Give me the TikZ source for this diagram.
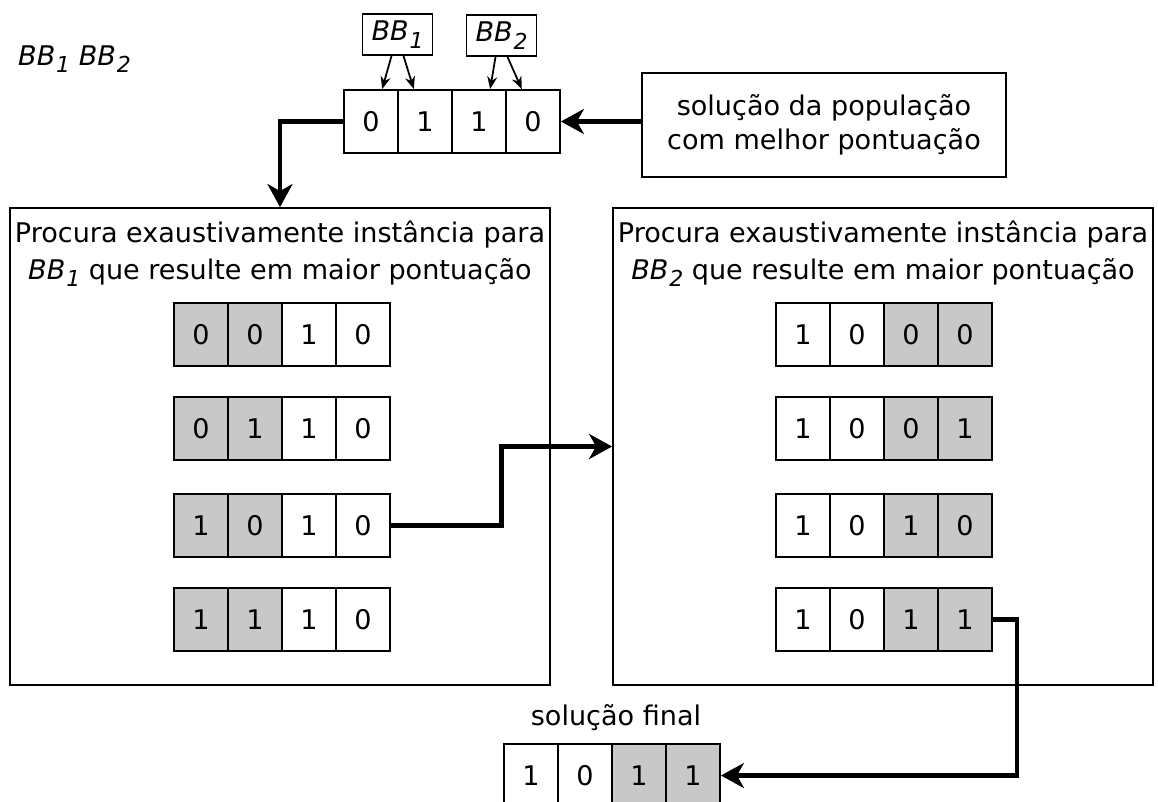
\documentclass[tikz,border=0pt]{standalone}
\usepackage{fontspec}
\setmainfont{DejaVu Sans}
\usetikzlibrary{calc,arrows.meta}
\definecolor{cellgray}{RGB}{200,200,200}
\newcommand{\bb}[1]{\textit{BB\kern0.5pt\raisebox{-0.5ex}{\fontsize{12.5}{12.5}\selectfont #1}}}

\begin{document}
\begin{tikzpicture}[x=0.02cm,y=-0.02cm,
  font=\fontsize{15.4}{19.5}\selectfont,
  cell/.style={draw,line width=1.1pt,minimum width=1.08cm,minimum height=1.26cm,inner sep=0pt,anchor=west},
  gcell/.style={cell,fill=cellgray},
  wcell/.style={cell,fill=white},
  bigbox/.style={draw,line width=1.1pt,minimum width=10.8cm,minimum height=9.54cm},
  tag/.style={draw,line width=1.1pt,minimum width=1.4cm,minimum height=0.82cm,inner sep=1pt},
  flow/.style={line width=2.3pt,-{Stealth[length=0.46cm,width=0.5cm,inset=0.14cm]}},
  pick/.style={line width=1pt,-{Stealth[length=0.25cm,width=0.2cm]}}]
\useasboundingbox (0,0) rectangle (1158,801);
\clip (0,0) rectangle (1158,801);

\node[anchor=base west] (names) at (12,65) {\bb{1}\ \bb{2}};

% solucao inicial
\foreach \b/\s [count=\c] in {0/wcell,1/wcell,1/wcell,0/wcell}
  \node[\s] (a\c) at (343+54*\c-54,121.5) {\b};
\node[tag] (bb1) at (397.5,34.5) {\bb{1}};
\node[tag] (bb2) at (501.5,35.5) {\bb{2}};
\draw[pick] ($(bb1.south)+(-6,0)$) -- ($(a1.north)!.4!(a1.north east)$);
\draw[pick] ($(bb1.south)+(6,0)$) -- ($(a2.north)!.4!(a2.north west)$);
\draw[pick] ($(bb2.south)+(-6,0)$) -- ($(a3.north)!.4!(a3.north east)$);
\draw[pick] ($(bb2.south)+(6,0)$) -- ($(a4.north)!.4!(a4.north west)$);

\node[draw,line width=1.1pt,minimum width=7.28cm,minimum height=2.08cm,align=center] (sol) at (824,125)
  {solução da população\\com melhor pontuação};
\draw[flow] (sol.west |- a4.east) -- (a4.east);

% busca em BB1 e BB2
\node[bigbox] (left) at (280,446.5) {};
\node[bigbox] (right) at (883,446.5) {};
\node[anchor=north,align=center,font=\fontsize{15.4}{21}\selectfont] (ltitle) at ([yshift=-0.15cm]left.north)
  {Procura exaustivamente instância para\\\bb{1} que resulte em maior pontuação};
\node[anchor=north,align=center,font=\fontsize{15.4}{21}\selectfont] (rtitle) at ([yshift=-0.15cm]right.north)
  {Procura exaustivamente instância para\\\bb{2} que resulte em maior pontuação};
\draw[flow] (a1.west) -| (left.north);

\foreach \r/\y/\bits in {1/334.5/{0/gcell,0/gcell,1/wcell,0/wcell},
                         2/428.5/{0/gcell,1/gcell,1/wcell,0/wcell},
                         3/525.5/{1/gcell,0/gcell,1/wcell,0/wcell},
                         4/619.5/{1/gcell,1/gcell,1/wcell,0/wcell}}
  \foreach \b/\s [count=\c] in \bits
    \node[\s] (L\r\c) at (173+54*\c-54,\y) {\b};

\foreach \r/\y/\bits in {1/334.5/{1/wcell,0/wcell,0/gcell,0/gcell},
                         2/428.5/{1/wcell,0/wcell,0/gcell,1/gcell},
                         3/525.5/{1/wcell,0/wcell,1/gcell,0/gcell},
                         4/619.5/{1/wcell,0/wcell,1/gcell,1/gcell}}
  \foreach \b/\s [count=\c] in \bits
    \node[\s] (R\r\c) at (775+54*\c-54,\y) {\b};

\coordinate (bend) at ($(L34.east)!.5!(right.west)$);
\draw[flow] (L34.east) -| (bend) |- (right.west);

% resultado
\node (fintxt) at (616,718) {solução final};
\foreach \b/\s [count=\c] in {1/wcell,0/wcell,1/gcell,1/gcell}
  \node[\s] (F\c) at (503+54*\c-54,775.5) {\b};
\coordinate (turn) at (1017,0);
\draw[flow] (R44.east) -| (turn |- F4.east) -- (F4.east);
\end{tikzpicture}
\end{document}
